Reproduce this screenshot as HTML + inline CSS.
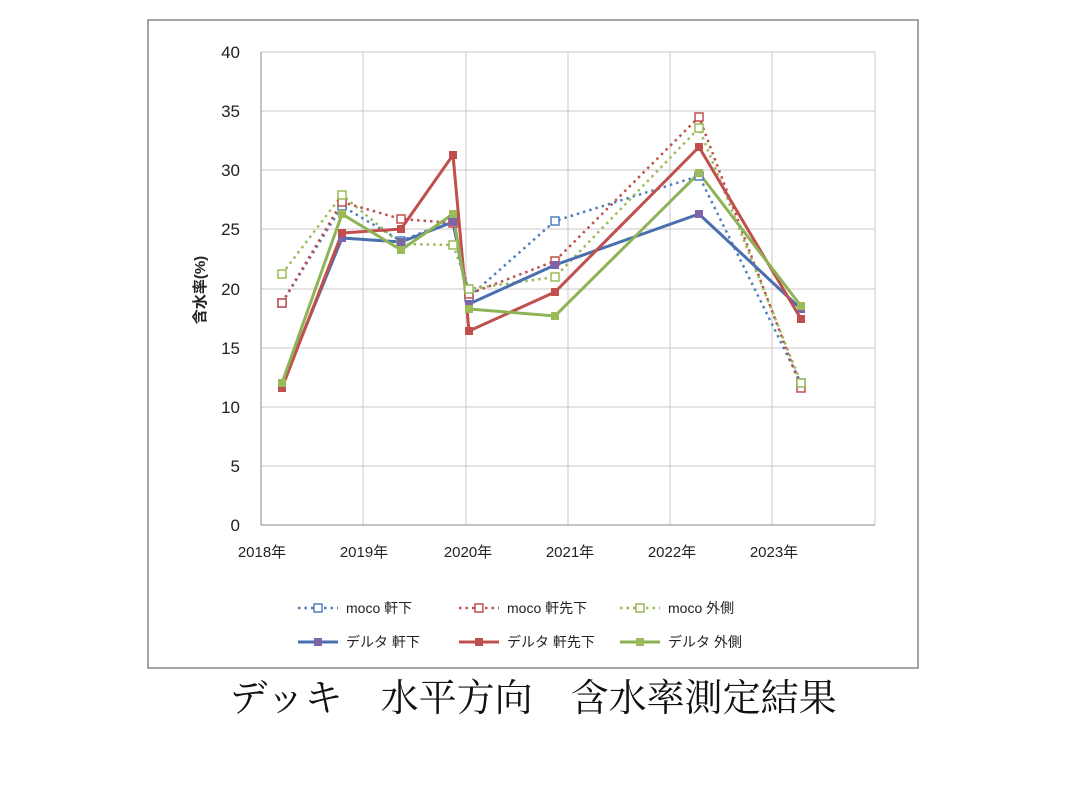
<!DOCTYPE html>
<html><head><meta charset="utf-8"><style>
body{margin:0;background:#fff;width:1073px;height:805px;overflow:hidden}
svg{display:block}
text{font-family:"Liberation Sans","Noto Sans CJK JP",sans-serif}
</style></head><body>
<svg width="1073" height="805" viewBox="0 0 1073 805">
<rect x="148" y="20" width="770" height="648" fill="#fff" stroke="#888" stroke-width="1.5"/>
<g stroke="#c8c8c8" stroke-width="1">
<line x1="261" y1="52" x2="875" y2="52"/><line x1="261" y1="111" x2="875" y2="111"/>
<line x1="261" y1="170" x2="875" y2="170"/><line x1="261" y1="229" x2="875" y2="229"/>
<line x1="261" y1="289" x2="875" y2="289"/><line x1="261" y1="348" x2="875" y2="348"/>
<line x1="261" y1="407" x2="875" y2="407"/><line x1="261" y1="466" x2="875" y2="466"/>
<line x1="363" y1="52" x2="363" y2="525"/><line x1="466" y1="52" x2="466" y2="525"/>
<line x1="568" y1="52" x2="568" y2="525"/><line x1="670" y1="52" x2="670" y2="525"/>
<line x1="772" y1="52" x2="772" y2="525"/><line x1="875" y1="52" x2="875" y2="525"/>
</g>
<line x1="261" y1="52" x2="261" y2="525" stroke="#888"/>
<line x1="261" y1="525" x2="875" y2="525" stroke="#888"/>
<g font-size="17" fill="#222" text-anchor="end">
<text x="240" y="58">40</text><text x="240" y="117">35</text><text x="240" y="176">30</text>
<text x="240" y="235">25</text><text x="240" y="295">20</text><text x="240" y="354">15</text>
<text x="240" y="413">10</text><text x="240" y="472">5</text><text x="240" y="531">0</text>
</g>
<g font-size="15" fill="#222" text-anchor="middle">
<text x="262" y="557">2018年</text><text x="364" y="557">2019年</text><text x="468" y="557">2020年</text>
<text x="570" y="557">2021年</text><text x="672" y="557">2022年</text><text x="774" y="557">2023年</text>
</g>
<text x="205" y="290" transform="rotate(-90 205 290)" font-size="15" font-weight="bold" text-anchor="middle" fill="#222">含水率(%)</text>
<g fill="none" stroke-width="2.5" stroke-dasharray="2.5 4">
<polyline stroke="#4F81BD" points="282,303 342,206 401,241 453,220 469,297 555,221 699,176 801,383"/>
<polyline stroke="#C0504D" points="282,303 342,202 401,219 453,223 469,294 555,261 699,117 801,388"/>
<polyline stroke="#9BBB59" points="282,274 342,195 401,244 453,245 469,289 555,277 699,128 801,383"/>
</g>
<g fill="none" stroke-width="3">
<polyline stroke="#4A6FAE" points="282,385 342,238 401,242 453,222 469,304 555,265 699,214 801,309"/>
<polyline stroke="#C0504D" points="282,388 342,233 401,229 453,155 469,331 555,292 699,147 801,319"/>
<polyline stroke="#8DB356" points="282,383 342,214 401,250 453,214 469,309 555,316 699,173 801,306"/>
</g>
<g fill="#fff" stroke-width="1.5">
<g stroke="#4F81BD"><rect x="278" y="299" width="8" height="8"/><rect x="338" y="202" width="8" height="8"/><rect x="397" y="237" width="8" height="8"/><rect x="449" y="216" width="8" height="8"/><rect x="465" y="293" width="8" height="8"/><rect x="551" y="217" width="8" height="8"/><rect x="695" y="172" width="8" height="8"/><rect x="797" y="379" width="8" height="8"/></g>
<g stroke="#C0504D"><rect x="278" y="299" width="8" height="8"/><rect x="338" y="198" width="8" height="8"/><rect x="397" y="215" width="8" height="8"/><rect x="449" y="219" width="8" height="8"/><rect x="465" y="290" width="8" height="8"/><rect x="551" y="257" width="8" height="8"/><rect x="695" y="113" width="8" height="8"/><rect x="797" y="384" width="8" height="8"/></g>
<g stroke="#9BBB59"><rect x="278" y="270" width="8" height="8"/><rect x="338" y="191" width="8" height="8"/><rect x="397" y="240" width="8" height="8"/><rect x="449" y="241" width="8" height="8"/><rect x="465" y="285" width="8" height="8"/><rect x="551" y="273" width="8" height="8"/><rect x="695" y="124" width="8" height="8"/><rect x="797" y="379" width="8" height="8"/></g>
</g>
<g>
<g fill="#7E64A8"><rect x="278" y="381" width="8" height="8"/><rect x="338" y="234" width="8" height="8"/><rect x="397" y="238" width="8" height="8"/><rect x="449" y="218" width="8" height="8"/><rect x="465" y="300" width="8" height="8"/><rect x="551" y="261" width="8" height="8"/><rect x="695" y="210" width="8" height="8"/><rect x="797" y="305" width="8" height="8"/></g>
<g fill="#C0504D"><rect x="278" y="384" width="8" height="8"/><rect x="338" y="229" width="8" height="8"/><rect x="397" y="225" width="8" height="8"/><rect x="449" y="151" width="8" height="8"/><rect x="465" y="327" width="8" height="8"/><rect x="551" y="288" width="8" height="8"/><rect x="695" y="143" width="8" height="8"/><rect x="797" y="315" width="8" height="8"/></g>
<g fill="#9BBB59"><rect x="278" y="379" width="8" height="8"/><rect x="338" y="210" width="8" height="8"/><rect x="397" y="246" width="8" height="8"/><rect x="449" y="210" width="8" height="8"/><rect x="465" y="305" width="8" height="8"/><rect x="551" y="312" width="8" height="8"/><rect x="695" y="169" width="8" height="8"/><rect x="797" y="302" width="8" height="8"/></g>
</g>
<g stroke-width="2.5" fill="none" stroke-dasharray="2.5 4">
<line x1="298" y1="608" x2="338" y2="608" stroke="#4F81BD"/>
<line x1="459" y1="608" x2="499" y2="608" stroke="#C0504D"/>
<line x1="620" y1="608" x2="660" y2="608" stroke="#9BBB59"/>
</g>
<g fill="#fff" stroke-width="1.5">
<rect x="314" y="604" width="8" height="8" stroke="#4F81BD"/>
<rect x="475" y="604" width="8" height="8" stroke="#C0504D"/>
<rect x="636" y="604" width="8" height="8" stroke="#9BBB59"/>
</g>
<g stroke-width="3">
<line x1="298" y1="642" x2="338" y2="642" stroke="#4A6FAE"/>
<line x1="459" y1="642" x2="499" y2="642" stroke="#C0504D"/>
<line x1="620" y1="642" x2="660" y2="642" stroke="#8DB356"/>
</g>
<rect x="314" y="638" width="8" height="8" fill="#7E64A8"/>
<rect x="475" y="638" width="8" height="8" fill="#C0504D"/>
<rect x="636" y="638" width="8" height="8" fill="#9BBB59"/>
<g font-size="14" fill="#222">
<text x="346" y="613">moco 軒下</text><text x="507" y="613">moco 軒先下</text><text x="668" y="613">moco 外側</text>
<text x="346" y="647">デルタ 軒下</text><text x="507" y="647">デルタ 軒先下</text><text x="668" y="647">デルタ 外側</text>
</g>
<text x="533" y="711" font-size="38" text-anchor="middle" fill="#111" style="font-family:'Liberation Serif','Noto Serif CJK SC',serif">デッキ　水平方向　含水率測定結果</text>
</svg>
</body></html>
